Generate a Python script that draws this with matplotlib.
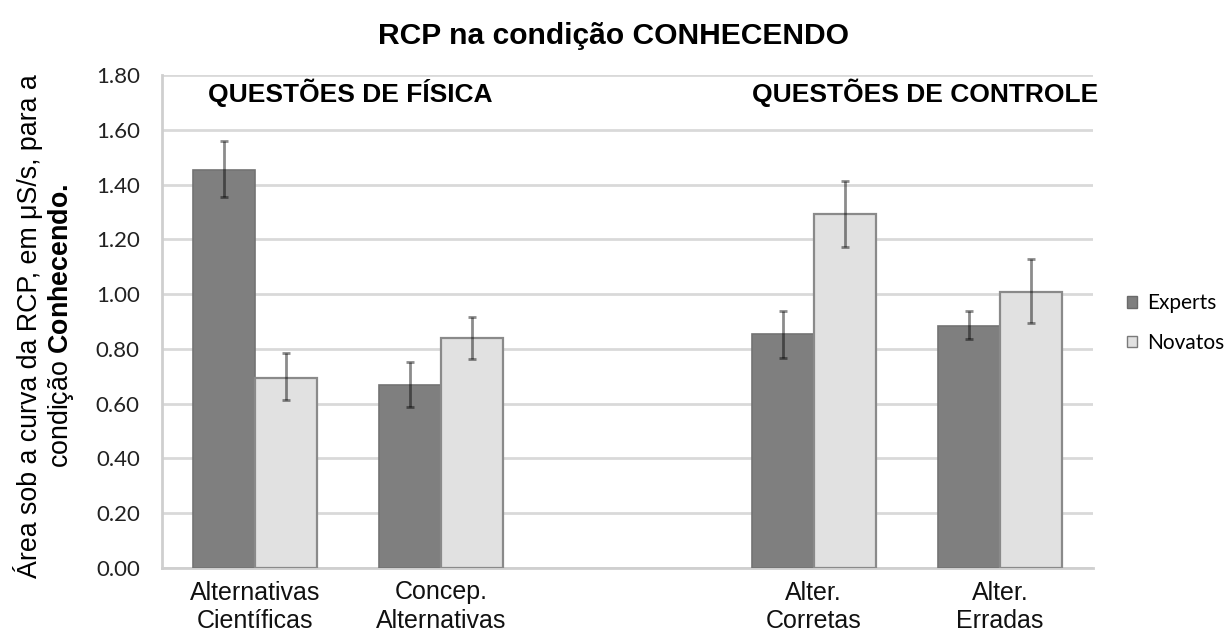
import matplotlib
matplotlib.use("Agg")
import matplotlib.pyplot as plt
from matplotlib.patches import Patch

categories = ["Alternativas\nCientíficas", "Concep.\nAlternativas", "Alter.\nCorretas", "Alter.\nErradas"]
experts = [1.453, 0.668, 0.854, 0.884]
experts_err_hi = [1.558, 0.752, 0.938, 0.939]
experts_err_lo = [1.354, 0.588, 0.766, 0.837]
novatos = [0.694, 0.839, 1.292, 1.008]
novatos_err_hi = [0.785, 0.916, 1.412, 1.128]
novatos_err_lo = [0.612, 0.763, 1.172, 0.894]
yticks = [0.0, 0.2, 0.4, 0.6, 0.8, 1.0, 1.2, 1.4, 1.6, 1.8]

plt.rcParams['font.family'] = ['Liberation Sans', 'DejaVu Sans']
plt.rcParams['mathtext.fontset'] = 'custom'
plt.rcParams['mathtext.rm'] = 'Liberation Sans'
plt.rcParams['mathtext.bf'] = 'Liberation Sans:bold'

W, H = 1226, 634
fig = plt.figure(figsize=(W / 100, H / 100), dpi=100)
ax = fig.add_axes([162 / W, 1 - 568 / H, 931 / W, 493 / H])

pos = [0, 1, 3, 4]
bw = 0.333
xe = [p - bw / 2 for p in pos]
xn = [p + bw / 2 for p in pos]

ax.bar(xe, experts, width=bw, color='#7f7f7f', edgecolor='#737373', linewidth=1.2, zorder=3)
ax.bar(xn, novatos, width=bw, color='#e1e1e1', edgecolor='#8a8a8a', linewidth=1.6, zorder=3)

e_err = [[v - lo for v, lo in zip(experts, experts_err_lo)], [hi - v for v, hi in zip(experts, experts_err_hi)]]
n_err = [[v - lo for v, lo in zip(novatos, novatos_err_lo)], [hi - v for v, hi in zip(novatos, novatos_err_hi)]]
ax.errorbar(xe, experts, yerr=e_err, fmt='none', ecolor='#000000', alpha=0.45, elinewidth=2, capsize=3, capthick=2, zorder=4)
ax.errorbar(xn, novatos, yerr=n_err, fmt='none', ecolor='#000000', alpha=0.45, elinewidth=2, capsize=3, capthick=2, zorder=4)

ax.set_ylim(0, 1.8)
ax.set_xlim(-0.5, 4.5)
ax.set_yticks(yticks)
ax.set_yticklabels([f"{t:.2f}" for t in yticks], fontsize=16, color='#222222', family=['Lato', 'DejaVu Sans'])
ax.set_xticks(pos)
ax.set_xticklabels(categories, fontsize=18, color='#111111', linespacing=1.25)
ax.tick_params(axis='both', length=0)
ax.tick_params(axis='y', pad=16)
ax.tick_params(axis='x', pad=9)
ax.yaxis.grid(True, color='#d9d9d9', linewidth=2, zorder=0)
ax.set_axisbelow(True)
for s in ['top', 'right']:
    ax.spines[s].set_visible(False)
for s in ['left', 'bottom']:
    ax.spines[s].set_color('#cfcfcf')
    ax.spines[s].set_linewidth(2)

ax.text(0.0494, 0.9635, "QUESTÕES DE FÍSICA", transform=ax.transAxes, fontsize=19,
        fontweight='bold', ha='left', va='center')
ax.text(1.0054, 0.9635, "QUESTÕES DE CONTROLE", transform=ax.transAxes, fontsize=19,
        fontweight='bold', ha='right', va='center')

fig.text(0.5, 1 - 36 / H, "RCP na condição CONHECENDO", fontsize=21.6, fontweight='bold',
         ha='center', va='center')

fig.text(28 / W, 1 - 326 / H, "Área sob a curva da RCP, em μS/s, para a", rotation=90,
         fontsize=19.3, ha='center', va='center')
fig.text(61 / W, 1 - 326 / H, r"condição $\mathbf{Conhecendo.}$", rotation=90,
         fontsize=19.3, ha='center', va='center')

handles = [Patch(facecolor='#7f7f7f', edgecolor='#6a6a6a', label='Experts'),
           Patch(facecolor='#e1e1e1', edgecolor='#7a7a7a', label='Novatos')]
fig.legend(handles=handles, loc='center left', bbox_to_anchor=(1127 / W, 1 - 323 / H),
           frameon=False, prop={'family': ['Lato', 'DejaVu Sans'], 'size': 15},
           handlelength=0.5, handleheight=0.5, handletextpad=0.48, labelspacing=0.95,
           borderaxespad=0, borderpad=0)

fig.savefig("out.png", dpi=100)
